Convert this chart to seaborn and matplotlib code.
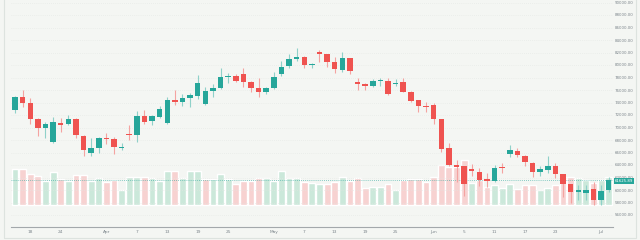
import matplotlib.pyplot as plt
import numpy as np
import pandas as pd
import seaborn as sns
from matplotlib.patches import Rectangle
from matplotlib.transforms import blended_transform_factory


# Candle values (one per bar, left to right)
opens = [72800, 74880, 73920, 71360, 69920, 67680, 70720, 70560, 71360, 68640,
         65920, 66720, 68320, 68160, 66720, 68960, 68800, 71888, 71040, 71680,
         70720, 74400, 74128, 74768, 75040, 73760, 75840, 76320, 78128, 78240,
         78560, 77328, 76320, 75728, 76272, 78512, 79840, 80912, 81328, 80000,
         82128, 81712, 80432, 79200, 81072, 77328, 76912, 76688, 77440, 77488,
         76960, 77232, 75728, 74400, 73488, 73600, 71312, 66672, 64000, 63840,
         63312, 62928, 61760, 61440, 63728, 65712, 66240, 65520, 64400, 62832,
         63200, 63920, 62560, 60960, 59728, 59520, 60112, 58400, 60000]
highs = [75040, 76000, 74720, 71520, 70880, 71680, 71520, 72000, 71520, 68800,
         68320, 68480, 69120, 68480, 67520, 70400, 72640, 72800, 72000, 73440,
         74880, 76000, 75360, 75520, 78400, 76480, 76960, 79520, 78720, 78560,
         79520, 77440, 77920, 76480, 78880, 80688, 81760, 82768, 81440, 80368,
         82400, 81760, 81280, 82032, 81120, 77920, 77168, 77712, 77968, 77872,
         77760, 77968, 75840, 74480, 74128, 73872, 71360, 67472, 64800, 63920,
         64160, 63472, 62672, 63952, 64272, 67200, 66672, 65600, 64480, 63840,
         65520, 64272, 62640, 61040, 60800, 60800, 61328, 60800, 62128]
lows = [72320, 73280, 70560, 68640, 68320, 67520, 69280, 70400, 68320, 65440,
        65440, 65920, 67360, 65760, 66400, 68000, 67680, 70560, 70400, 71520,
        70560, 73600, 73440, 73280, 74560, 73600, 74928, 76160, 77120, 77280,
        76480, 75680, 74880, 75360, 76160, 78240, 79520, 80640, 79520, 79520,
        80432, 79728, 78672, 78832, 78560, 76000, 76000, 76528, 76688, 75200,
        76688, 75632, 74032, 72432, 72432, 70512, 66128, 63840, 61328, 59040,
        62240, 60640, 60528, 61360, 62672, 65232, 65328, 63840, 62128, 62240,
        62800, 61872, 58960, 58000, 58400, 58400, 57600, 57600, 59728]
closes = [74880, 73920, 71360, 69920, 70560, 70880, 70480, 71360, 68800, 66400,
          66720, 68320, 68160, 66880, 66880, 68800, 71888, 70928, 71840, 72960,
          74400, 74128, 74768, 75200, 77120, 75888, 76320, 78128, 78288, 77440,
          77328, 76320, 75728, 76320, 78128, 79728, 80912, 81328, 80000, 80160,
          81712, 80432, 79312, 81072, 79040, 76912, 76688, 77440, 77600, 75360,
          77168, 75728, 74288, 73440, 73328, 71312, 66512, 64000, 63728, 60960,
          63040, 61600, 61488, 63472, 63472, 66320, 65600, 64480, 62928, 63360,
          63840, 62608, 60960, 59632, 60000, 60080, 58400, 59888, 61625.89]
volume_k = [35.7, 35.7, 31.3, 29.3, 24.0, 32.7, 25.7, 24.0, 30.0, 30.0,
            24.0, 27.3, 23.3, 25.0, 14.7, 28.3, 28.3, 28.3, 26.7, 24.3,
            34.0, 34.0, 26.7, 34.3, 34.3, 26.0, 26.0, 30.7, 26.0, 21.0,
            24.3, 24.3, 26.7, 26.7, 24.3, 34.3, 26.7, 26.7, 23.3, 21.7,
            20.7, 20.7, 22.7, 28.3, 24.3, 26.7, 16.7, 17.7, 18.3, 20.7,
            15.0, 25.0, 26.0, 26.0, 23.3, 27.7, 40.0, 38.3, 38.3, 45.0,
            21.7, 25.0, 18.3, 20.0, 17.3, 21.0, 15.7, 20.0, 20.0, 15.0,
            17.3, 20.0, 27.7, 27.7, 26.7, 25.0, 22.3, 25.0, 28.3]

tick_idx = [2, 6, 12, 16, 20, 24, 28, 34, 38, 42, 46, 50, 55, 59, 63, 67, 71, 77]
tick_labels = ["18", "24", "Apr", "7", "13", "19", "25", "May", "7", "13",
               "19", "25", "Jun", "5", "11", "17", "23", "Jul"]
price_ticks = [56000, 58000, 60000, 62000, 64000, 66000, 68000, 70000, 72000,
               74000, 76000, 78000, 80000, 82000, 84000, 86000, 88000, 90000]

BG = "#f4f6f3"
UP, DOWN = "#26a69a", "#ef5350"
UP_WICK, DOWN_WICK = "#8fd1c9", "#f4a3a1"
UP_VOL, DOWN_VOL = "#cbe8da", "#f7d2d1"
TXT = "#7d868c"

df = pd.DataFrame({"open": opens, "high": highs, "low": lows,
                   "close": closes, "volume": volume_k})
df["idx"] = np.arange(len(df))
df["up"] = df["close"] >= df["open"]
# volume colour follows close vs previous close
df["vol_dir"] = np.where(df["close"] >= df["close"].shift(1).fillna(0), "up", "down")

sns.set_theme(style="white")
plt.rcParams["font.family"] = ["DejaVu Sans"]

fig = plt.figure(figsize=(6.4, 2.4), dpi=100, facecolor=BG)
axv = fig.add_axes([11 / 640, 1 - 227 / 240, 602 / 640, 227 / 240])
axv.set_facecolor(BG)

# Volume bars
sns.barplot(data=df, x="idx", y="volume", hue="vol_dir",
            palette={"up": UP_VOL, "down": DOWN_VOL}, dodge=False,
            width=0.9, saturation=1, errorbar=None, legend=False, ax=axv)
axv.set_ylim(-22, 205)
axv.set_yticks([])
axv.set_xlim(-0.53, 78.56)
axv.set_xticks(tick_idx, tick_labels)
axv.tick_params(axis="x", length=0, pad=2.2, labelsize=3.1, labelcolor=TXT)
axv.set_xlabel("")
axv.set_ylabel("")
for s in ["top", "left", "right"]:
    axv.spines[s].set_visible(False)
axv.spines["bottom"].set_color("#a3a8ab")
axv.spines["bottom"].set_linewidth(0.8)

# Candles on the price axis
ax = axv.twinx()
ax.patch.set_visible(False)
ax.set_ylim(54080, 90400)
ax.set_yticks(price_ticks, [f"{t:.2f}" for t in price_ticks])
ax.tick_params(axis="y", length=0, pad=1.5, labelsize=2.9, labelcolor=TXT)
ax.grid(axis="y", color="#e3e7e3", ls=(0, (1, 2)), lw=0.5)
for s in ax.spines.values():
    s.set_visible(False)

wick_colors = np.where(df["up"], UP_WICK, DOWN_WICK)
body_colors = np.where(df["up"], UP, DOWN)
ax.vlines(df["idx"], df["low"], df["high"], colors=wick_colors, lw=0.8, zorder=2)
body_low = np.minimum(df["open"], df["close"])
body_h = np.maximum((df["close"] - df["open"]).abs(), 170)
ax.bar(df["idx"], body_h, bottom=body_low, width=0.72, color=body_colors,
       lw=0, zorder=3)

# Last price line and label
last = df["close"].iloc[-1]
ax.axhline(last, color=UP, ls=(0, (1, 1.5)), lw=0.6, alpha=0.7, zorder=1)
tr = blended_transform_factory(ax.transAxes, ax.transData)
ax.annotate(f"{last:.2f}", xy=(1.0, last), xycoords=tr, xytext=(1.4, -1.0),
            textcoords="offset points", ha="left", va="center",
            fontsize=2.8, color="white", annotation_clip=False,
            bbox=dict(boxstyle="square,pad=0.25", fc=UP, ec="none"))

fig.add_artist(Rectangle((4 / 640, 2 / 240), 632 / 640, 240 / 240, fill=False,
                         ec="#dde3df", lw=0.8, transform=fig.transFigure))

fig.savefig("out.png", dpi=100, facecolor=BG)
